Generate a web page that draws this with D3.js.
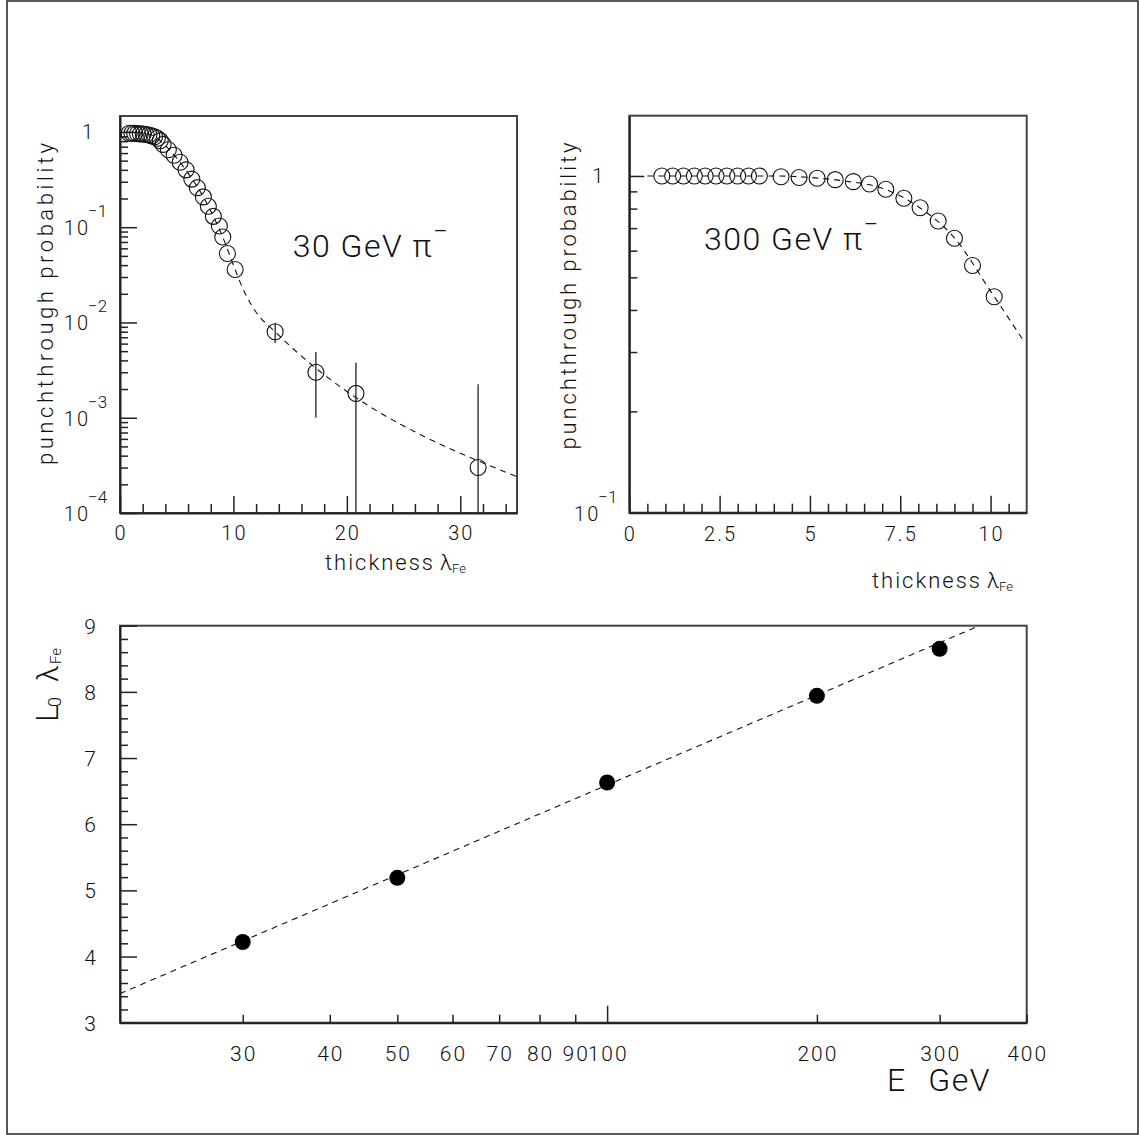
<!DOCTYPE html>
<html>
<head>
<meta charset="utf-8">
<script src="https://cdn.jsdelivr.net/npm/d3@7"></script>
<style>
	body { margin: 0; background: #fff; }
	svg { display: block; }
	text { font-family: Roboto, "DejaVu Sans", sans-serif; font-weight: 300; fill: #111; }
	.num { letter-spacing: 2px; }
	.tick line { stroke: #222; stroke-width: 1.5; }
	.domain { stroke: #222; stroke-width: 2; }
</style>
</head>
<body>
<svg id="chart" width="1139" height="1135"></svg>
<script>
// 30 GeV pi- : punchthrough probability vs iron thickness
var thick30 = [0.8, 1.05, 1.3, 1.55, 1.8, 2.05, 2.3, 2.55, 2.8, 3.05, 3.3, 3.55, 3.8,
	4.26, 4.77, 5.30, 5.82, 6.33, 6.82, 7.35, 7.79, 8.23, 8.76, 9.06, 9.47, 10.15,
	13.68, 17.27, 20.8, 31.57];
var prob30 = [0.97, 0.97, 0.965, 0.96, 0.955, 0.95, 0.94, 0.93, 0.91, 0.89, 0.86, 0.81, 0.74,
	0.65, 0.57, 0.48, 0.40, 0.32, 0.26, 0.208, 0.166, 0.13, 0.103, 0.079, 0.053, 0.036,
	0.008, 0.003, 0.0018, 0.0003];
// error bars, only the last four points have them (0 = below the axis)
var errX30 = [13.68, 17.27, 20.8, 31.57];
var errLo30 = [0.0061, 0.001, 0, 0];
var errHi30 = [0.0098, 0.0049, 0.0038, 0.00225];
// dashed fit
var fitX30 = [0.5, 2, 3, 4, 5, 6, 7, 8, 9, 10, 11, 12, 13.68, 35];
var fitY30 = [1.0, 0.97, 0.9, 0.72, 0.53, 0.37, 0.245, 0.148, 0.082, 0.040, 0.0205, 0.0128, 0.0080, 0.00024];

// 300 GeV pi-
var thick300 = [0.9, 1.2, 1.5, 1.8, 2.1, 2.4, 2.7, 3.0, 3.3, 3.6,
	4.2, 4.7, 5.2, 5.7, 6.2, 6.65, 7.1, 7.6, 8.05, 8.55, 9.0, 9.5, 10.1];
var prob300 = [1, 1, 1, 1, 1, 1, 1, 1, 1, 1,
	0.995, 0.99, 0.985, 0.975, 0.962, 0.947, 0.913, 0.859, 0.805, 0.735, 0.653, 0.542, 0.438];
var fitX300 = [0.5, 4, 5, 6, 7, 8, 9, 10, 10.93];
var fitY300 = [1.0, 1.0, 0.99, 0.965, 0.92, 0.81, 0.655, 0.455, 0.322];

// L0 vs energy
var energy = [30, 50, 100, 200, 300];
var lambda0 = [4.22, 5.19, 6.63, 7.94, 8.65];
var fitE = [20, 342];
var fitL = [3.44, 9.0];

// tick labels
var xLabels30 = [0, 10, 20, 30];
var xLabels300 = [0, 2.5, 5, 7.5, 10];
var eLabels = [30, 40, 50, 60, 70, 80, 90, 100, 200, 300, 400];
var lLabels = [3, 4, 5, 6, 7, 8, 9];

var svg = d3.select("#chart");

// outer page frame
svg.append("rect")
	.attr("x", 7).attr("y", 1).attr("width", 1131).attr("height", 1133)
	.attr("fill", "none").attr("stroke", "#222").attr("stroke-width", 1.5);

var box1 = { x: 120, y: 116, w: 397, h: 397 };
var box2 = { x: 629.3, y: 115.7, w: 397.4, h: 397 };
var box3 = { x: 120, y: 625.7, w: 906.7, h: 397 };

function panel(box, id) {
	var g = svg.append("g").attr("transform", `translate(${box.x},${box.y})`);
	g.append("clipPath").attr("id", id).append("rect").attr("width", box.w).attr("height", box.h);
	g.append("rect").attr("width", box.w).attr("height", box.h)
		.attr("fill", "none").attr("stroke", "#444").attr("stroke-width", 2);
	return g;
}

// inward tick marks drawn by d3 axes, labels added by hand
function ticks(g, axis, values, size, h) {
	var a = g.append("g").call(axis.tickValues(values).tickSize(-size).tickSizeOuter(0).tickFormat(""));
	if (h) a.attr("transform", `translate(0,${h})`);
	return a;
}

function logMinor(lo, hi) {
	var out = [];
	for (var e = lo; e <= hi; e++)
		for (var m = 2; m <= 9; m++) out.push(m * Math.pow(10, e));
	return out;
}

function powerLabel(g, x, y, exp) {
	if (exp === 0) {
		g.append("text").attr("x", x + 5).attr("y", y + 7).attr("text-anchor", "end")
			.style("font-size", "20px").text("1");
		return;
	}
	g.append("text").attr("class", "num").attr("x", x + 2).attr("y", y + 8).attr("text-anchor", "end")
		.style("font-size", "20px").text("10");
	g.append("text").attr("x", x).attr("y", y - 10)
		.style("font-size", "17px").text("\u2212" + (-exp));
}

function xTitle(g, x, y) {
	g.append("text").attr("x", x).attr("y", y).style("font-size", "22px")
		.attr("textLength", 108).attr("lengthAdjust", "spacing").text("thickness");
	g.append("text").attr("x", x + 115).attr("y", y).style("font-size", "22px").text("\u03bb");
	g.append("text").attr("x", x + 127).attr("y", y + 3).style("font-size", "13px").text("Fe");
}

function yTitle(g, x, y, len) {
	g.append("text").attr("transform", `translate(${x},${y}) rotate(-90)`)
		.attr("text-anchor", "middle").style("font-size", "22px")
		.attr("textLength", len).attr("lengthAdjust", "spacing")
		.text("punchthrough probability");
}

function title(g, x, y, txt) {
	var t = g.append("text").attr("x", x).attr("y", y).style("font-size", "32px")
		.style("letter-spacing", "1.5px").text(txt);
	t.append("tspan").attr("dy", -17).style("font-size", "26px").text("\u2212");
}

function openPoints(g, xs, ys, mx, my) {
	g.append("g").selectAll("circle").data(xs).join("circle")
		.attr("cx", (d) => mx(d))
		.attr("cy", (d, i) => my(ys[i]))
		.attr("r", 8)
		.attr("fill", "none").attr("stroke", "#111").attr("stroke-width", 1.1);
}

function dashed(g, xs, ys, mx, my, clip, curve) {
	var line = d3.line().x((d) => mx(d)).y((d, i) => my(ys[i]));
	if (curve) line.curve(curve);
	g.append("path").datum(xs).attr("d", line)
		.attr("clip-path", `url(#${clip})`)
		.attr("fill", "none").attr("stroke", "#111").attr("stroke-width", 1.1)
		.attr("stroke-dasharray", "6,5");
}

// ---------- panel 1 : 30 GeV ----------
var g1 = panel(box1, "clip1");
var x1 = d3.scaleLinear().domain([0, 35]).range([0, box1.w]);
var y1 = d3.scaleLog().domain([1e-4, 1.47]).range([box1.h, 0]);

ticks(g1, d3.axisLeft(y1), logMinor(-4, -1), 8).select(".domain").remove();
ticks(g1, d3.axisLeft(y1), [1e-4, 1e-3, 1e-2, 1e-1, 1], 17);
ticks(g1, d3.axisBottom(x1), d3.range(2, 35, 2).filter((v) => v % 10), 9, box1.h).select(".domain").remove();
ticks(g1, d3.axisBottom(x1), xLabels30, 17, box1.h);

[0, -1, -2, -3, -4].forEach((e) => powerLabel(g1, -32, y1(Math.pow(10, e)), e));
g1.append("g").selectAll("text").data(xLabels30).join("text")
	.attr("class", "num")
	.attr("x", (d) => x1(d) + 1).attr("y", box1.h + 27)
	.attr("text-anchor", "middle").style("font-size", "20px").text((d) => d);

dashed(g1, fitX30, fitY30, x1, y1, "clip1", d3.curveMonotoneX);
g1.append("g").selectAll("line").data(errX30).join("line")
	.attr("x1", (d) => x1(d)).attr("x2", (d) => x1(d))
	.attr("y1", (d, i) => y1(Math.max(errLo30[i], 1e-4)))
	.attr("y2", (d, i) => y1(errHi30[i]))
	.attr("stroke", "#222").attr("stroke-width", 1.3);
openPoints(g1, thick30, prob30, x1, y1);

title(g1, 172.7, 140.7, "30 GeV \u03c0");
xTitle(g1, 205, 454);
yTitle(g1, -67, 188, 322);

// ---------- panel 2 : 300 GeV ----------
var g2 = panel(box2, "clip2");
var x2 = d3.scaleLinear().domain([0, 11]).range([0, box2.w]);
var y2 = d3.scaleLog().domain([0.1, 1.51]).range([box2.h, 0]);

ticks(g2, d3.axisLeft(y2), logMinor(-1, -1), 8).select(".domain").remove();
ticks(g2, d3.axisLeft(y2), [0.1, 1], 15);
ticks(g2, d3.axisBottom(x2), d3.range(1, 22).filter((v) => v % 5).map((v) => v / 2), 9, box2.h).select(".domain").remove();
ticks(g2, d3.axisBottom(x2), xLabels300, 17, box2.h);

[0, -1].forEach((e) => powerLabel(g2, -31, y2(Math.pow(10, e)), e));
g2.append("g").selectAll("text").data(xLabels300).join("text")
	.attr("class", "num")
	.attr("x", (d) => x2(d) + 1).attr("y", box2.h + 28)
	.attr("text-anchor", "middle").style("font-size", "20px").text((d) => d);

dashed(g2, fitX300, fitY300, x2, y2, "clip2", d3.curveMonotoneX);
openPoints(g2, thick300, prob300, x2, y2);

title(g2, 74.7, 134.3, "300 GeV \u03c0");
xTitle(g2, 242.7, 472);
yTitle(g2, -53, 180.3, 307);

// ---------- panel 3 : L0 vs E ----------
var g3 = panel(box3, "clip3");
var x3 = d3.scaleLog().domain([20, 400]).range([0, box3.w]);
var y3 = d3.scaleLinear().domain([3, 9]).range([box3.h, 0]);

ticks(g3, d3.axisLeft(y3), d3.range(16, 45).filter((v) => v % 5).map((v) => v / 5), 8).select(".domain").remove();
ticks(g3, d3.axisLeft(y3), lLabels, 17);
ticks(g3, d3.axisBottom(x3), eLabels.filter((v) => v !== 100), 8, box3.h).select(".domain").remove();
ticks(g3, d3.axisBottom(x3), [100], 17, box3.h);

g3.append("g").selectAll("text").data(lLabels).join("text")
	.attr("x", -30).attr("y", (d) => y3(d) + 8)
	.attr("text-anchor", "middle").style("font-size", "21px").text((d) => d);
g3.append("g").selectAll("text").data(eLabels).join("text")
	.attr("class", "num")
	.attr("x", (d) => x3(d) + 1).attr("y", box3.h + 38)
	.attr("text-anchor", "middle").style("font-size", "21px").text((d) => d);

dashed(g3, fitE, fitL, x3, y3, "clip3");
g3.append("g").selectAll("circle").data(energy).join("circle")
	.attr("cx", (d) => x3(d))
	.attr("cy", (d, i) => y3(lambda0[i]))
	.attr("r", 8).attr("fill", "#000");

g3.append("text").attr("x", 767).attr("y", 465.3).style("font-size", "32px").text("E");
g3.append("text").attr("x", 808.3).attr("y", 465.3).style("font-size", "32px")
	.style("letter-spacing", "1.5px").text("GeV");

var lt = g3.append("text").attr("transform", "translate(-62,96.3) rotate(-90)");
lt.append("tspan").attr("x", 0).attr("y", 0).style("font-size", "32px").text("L");
lt.append("tspan").attr("x", 15).attr("y", 3).style("font-size", "18px").text("0");
lt.append("tspan").attr("x", 40).attr("y", 0).style("font-size", "30px").text("\u03bb");
lt.append("tspan").attr("x", 58).attr("y", 3).style("font-size", "15px").text("Fe");
</script>
</body>
</html>
